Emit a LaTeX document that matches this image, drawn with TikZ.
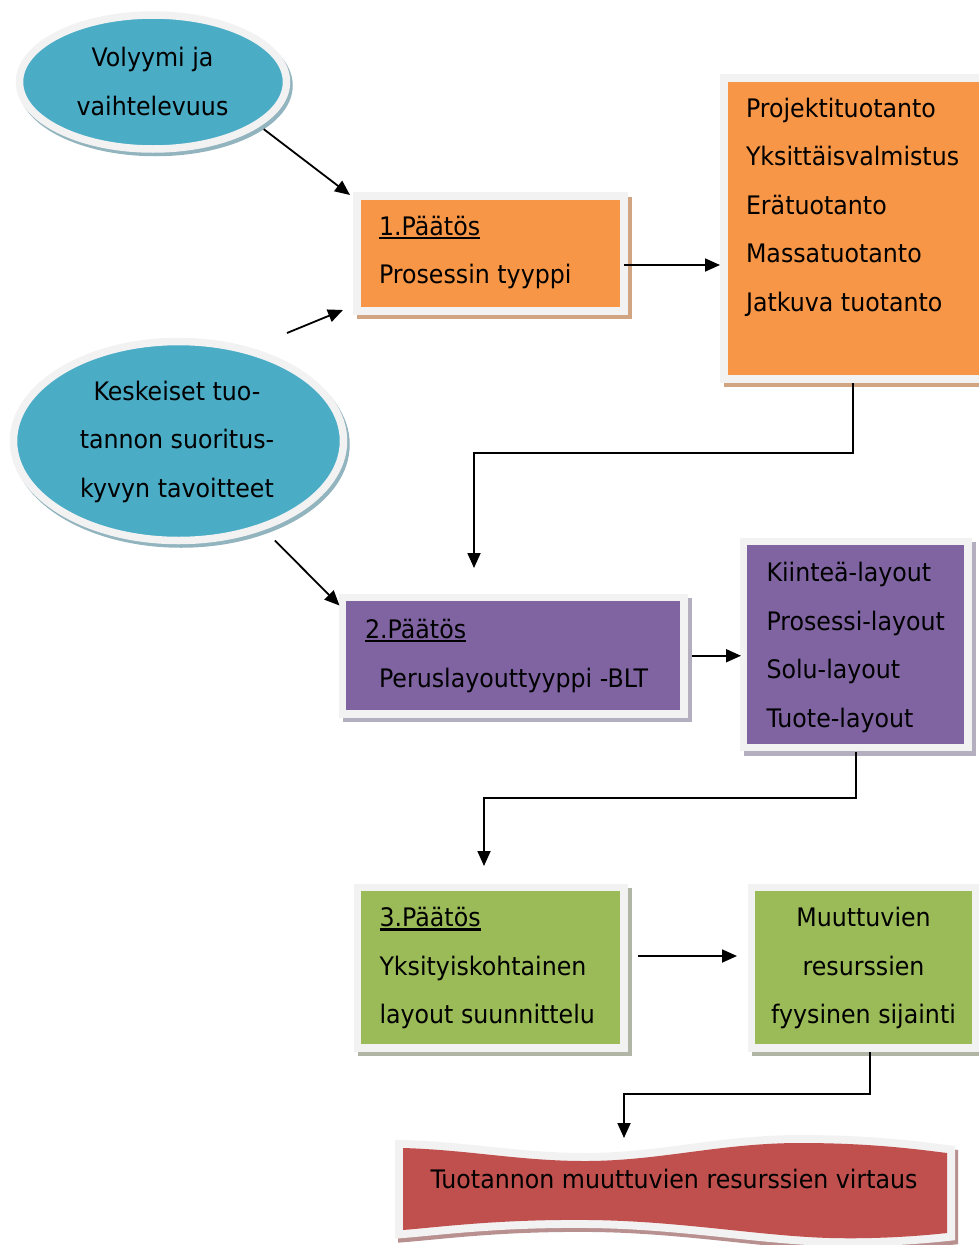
\documentclass[tikz,border=0pt]{standalone}
\usepackage{fontspec}
\setmainfont{DejaVu Sans}[FakeStretch=0.93]
\usetikzlibrary{arrows.meta,shapes.geometric}
\definecolor{aqua}{HTML}{4BACC6}
\definecolor{aquash}{HTML}{91B4BE}
\definecolor{orng}{HTML}{F79646}
\definecolor{orngsh}{HTML}{D2A582}
\definecolor{purp}{HTML}{8064A2}
\definecolor{purpsh}{HTML}{B4AFBE}
\definecolor{grn}{HTML}{9BBB59}
\definecolor{grnsh}{HTML}{B0B5A5}
\definecolor{redc}{HTML}{C0504D}
\definecolor{redsh}{HTML}{B89090}
\definecolor{bwhite}{HTML}{F2F2F2}
\newcommand\myul[1]{\setbox0=\hbox{#1}\rlap{\rule[-4pt]{\wd0}{2.2pt}}\box0}
\tikzset{
  rbox/.style={rectangle, draw=bwhite, line width=7.5pt, inner sep=0pt, outer sep=0pt,
    preaction={fill=#1, draw=#1, line width=7.5pt, transform canvas={shift={(4pt,-4.5pt)}}}},
  ebox/.style={ellipse, draw=bwhite, line width=7.5pt, inner sep=0pt, outer sep=0pt,
    preaction={fill=#1, draw=#1, line width=7.5pt, transform canvas={shift={(2.5pt,-3.5pt)}}}},
  txt/.style={inner sep=0pt, outer sep=0pt, font=\fontsize{25.5pt}{30pt}\selectfont, text=black},
  arr/.style={line width=1.8pt, -{Triangle[length=15pt,width=13pt]}},
  wave/.style={fill=redc,
    preaction={fill=redsh, draw=redsh, line width=16pt, transform canvas={shift={(3pt,-4pt)}}},
    preaction={draw=bwhite, line width=16pt}}
}
\begin{document}
\begin{tikzpicture}[x=1pt,y=-1pt]
\useasboundingbox (0,0) rectangle (978,1245);

% shapes
\node[ebox=aquash, fill=aqua, minimum width=267pt, minimum height=134pt] (e1) at (153,82) {};
\node[ebox=aquash, fill=aqua, minimum width=330pt, minimum height=199pt] (e2) at (178.5,441) {};
\node[rbox=orngsh, fill=orng, minimum width=267pt, minimum height=115pt] (b1) at (490.5,253.5) {};
\node[rbox=orngsh, fill=orng, minimum width=266pt, minimum height=301pt] (or) at (857,228.5) {};
\node[rbox=purpsh, fill=purp, minimum width=341.5pt, minimum height=116.5pt] (b2) at (513.25,655.75) {};
\node[rbox=purpsh, fill=purp, minimum width=224.5pt, minimum height=206pt] (pr) at (855.75,644.5) {};
\node[rbox=grnsh, fill=grn, minimum width=266.5pt, minimum height=160.5pt] (g1) at (490.75,967.75) {};
\node[rbox=grnsh, fill=grn, minimum width=224pt, minimum height=160.5pt] (g2) at (863.5,967.75) {};
\path[wave] (403,1148) .. controls (470,1150) and (520,1161) .. (585,1161)
  .. controls (660,1161) and (720,1143) .. (800,1143)
  .. controls (870,1143) and (915,1149) .. (947,1153)
  -- (947,1233) .. controls (910,1237) and (870,1239) .. (830,1238)
  .. controls (760,1236) and (680,1221) .. (590,1220)
  .. controls (500,1219) and (440,1227) .. (403,1230) -- cycle;

% texts
\node[txt, anchor=base] (t1) at (152.5,66.5) {Volyymi ja};
\node[txt, anchor=base] (t2) at (152.5,115) {vaihtelevuus};
\node[txt, anchor=base] (t3) at (177,400) {Keskeiset tuo-};
\node[txt, anchor=base] (t4) at (177,448.5) {tannon suoritus-};
\node[txt, anchor=base] (t5) at (177,497) {kyvyn tavoitteet};
\node[txt, anchor=base west] (t6) at (379,235) {\myul{1.Päätös}};
\node[txt, anchor=base west] (t7) at (379,283.5) {Prosessin tyyppi};
\node[txt, anchor=base west] (t8) at (746,117) {Projektituotanto};
\node[txt, anchor=base west] (t9) at (746,165.5) {Yksittäisvalmistus};
\node[txt, anchor=base west] (t10) at (746,214) {Erätuotanto};
\node[txt, anchor=base west] (t11) at (746,262.5) {Massatuotanto};
\node[txt, anchor=base west] (t12) at (746,311) {Jatkuva tuotanto};
\node[txt, anchor=base west] (t13) at (365,638) {\myul{2.Päätös}};
\node[txt, anchor=base west] (t14) at (379,687) {Peruslayouttyyppi -BLT};
\node[txt, anchor=base west] (t15) at (766.5,581.5) {Kiinteä-layout};
\node[txt, anchor=base west] (t16) at (766.5,630) {Prosessi-layout};
\node[txt, anchor=base west] (t17) at (766.5,678.5) {Solu-layout};
\node[txt, anchor=base west] (t18) at (766.5,727) {Tuote-layout};
\node[txt, anchor=base west] (t19) at (379.5,926.5) {\myul{3.Päätös}};
\node[txt, anchor=base west] (t20) at (379.5,975) {Yksityiskohtainen};
\node[txt, anchor=base west] (t21) at (379.5,1023.5) {layout suunnittelu};
\node[txt, anchor=base] (t22) at (863.5,926.5) {Muuttuvien};
\node[txt, anchor=base] (t23) at (863.5,975) {resurssien};
\node[txt, anchor=base] (t24) at (863.5,1023.5) {fyysinen sijainti};
\node[txt, anchor=base] (t25) at (674,1188) {Tuotannon muuttuvien resurssien virtaus};

% connectors
\coordinate (s2) at (287,333);
\coordinate (a1) at (474,568);
\coordinate (a2) at (484,866);
\coordinate (a3) at (624,1138);
\coordinate (b1r) at ([yshift=-11.5pt]b1.east);
\coordinate (g1r) at ([yshift=11.75pt]g1.east);
\draw[arr, shorten <=8.5pt] (e1.-22) -- ([xshift=-7pt,yshift=1pt]b1.north west);
\draw[arr] (s2) -- ([xshift=-14pt,yshift=1pt]b1.south west);
\draw[arr, shorten >=4pt] (b1r) -- (b1r -| or.west);
\draw[arr, shorten <=4pt] ([xshift=-4pt]or.south) -- ++(0,74) -| (a1);
\draw[arr, shorten <=19pt] (e2.-46.6) -- ([xshift=-3pt,yshift=-8pt]b2.north west);
\draw[arr, shorten <=8pt, shorten >=2.5pt] (b2.east) -- (b2.east -| pr.west);
\draw[arr, shorten <=4pt] (pr.south) -- ++(0,50.5) -| (a2);
\draw[arr, shorten <=14pt, shorten >=14.5pt] (g1r) -- (g1r -| g2.west);
\draw[arr, shorten <=4pt] ([xshift=6.5pt]g2.south) -- ++(0,46) -| (a3);
\end{tikzpicture}
\end{document}
